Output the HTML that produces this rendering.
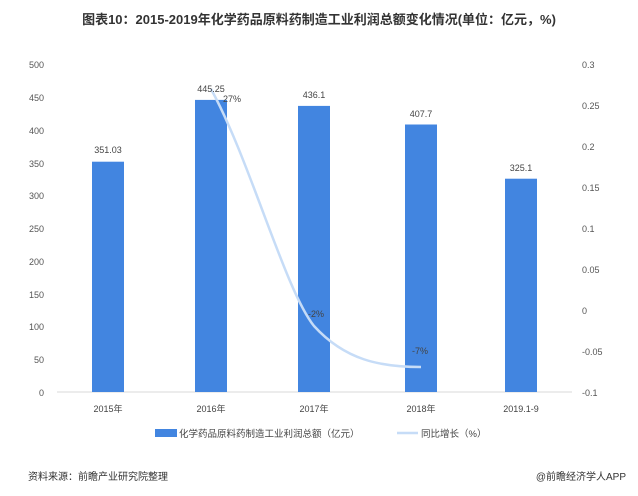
<!DOCTYPE html>
<html><head><meta charset="utf-8"><style>
body{margin:0;background:#fff;}
svg text{font-family:"Liberation Sans","Noto Sans CJK SC",sans-serif;}
</style></head><body>
<svg width="638" height="491" viewBox="0 0 638 491" xmlns="http://www.w3.org/2000/svg">
<rect width="638" height="491" fill="#fff"/>
<text x="319" y="24" text-anchor="middle" font-size="13" font-weight="bold" fill="#333">图表10：2015-2019年化学药品原料药制造工业利润总额变化情况(单位：亿元，%)</text>
<g font-size="9" fill="#555">
<text x="44" y="68" text-anchor="end">500</text>
<text x="44" y="101" text-anchor="end">450</text>
<text x="44" y="134" text-anchor="end">400</text>
<text x="44" y="167" text-anchor="end">350</text>
<text x="44" y="199" text-anchor="end">300</text>
<text x="44" y="232" text-anchor="end">250</text>
<text x="44" y="265" text-anchor="end">200</text>
<text x="44" y="298" text-anchor="end">150</text>
<text x="44" y="330" text-anchor="end">100</text>
<text x="44" y="363" text-anchor="end">50</text>
<text x="44" y="396" text-anchor="end">0</text>
<text x="582" y="68">0.3</text>
<text x="582" y="109">0.25</text>
<text x="582" y="150">0.2</text>
<text x="582" y="191">0.15</text>
<text x="582" y="232">0.1</text>
<text x="582" y="273">0.05</text>
<text x="582" y="314">0</text>
<text x="582" y="355">-0.05</text>
<text x="582" y="396">-0.1</text>
</g>
<line x1="57" y1="392" x2="572" y2="392" stroke="#d9d9d9" stroke-width="1"/>
<g fill="#4285e0">
<rect x="92" y="161.7" width="32" height="230.3"/>
<rect x="195" y="99.9" width="32" height="292.1"/>
<rect x="298" y="105.9" width="32" height="286.1"/>
<rect x="405" y="124.5" width="32" height="267.5"/>
<rect x="505" y="178.7" width="32" height="213.3"/>
</g>
<path d="M211,89 C250,160 285,290 314,326 C345,360 380,367 421,367" fill="none" stroke="#c6dcf7" stroke-width="2.5"/>
<g font-size="9" fill="#444" text-anchor="middle">
<text x="108" y="153">351.03</text>
<text x="211" y="92">445.25</text>
<text x="314" y="98">436.1</text>
<text x="421" y="117">407.7</text>
<text x="521" y="171">325.1</text>
<text x="232" y="102">27%</text>
<text x="316" y="317">-2%</text>
<text x="420" y="354">-7%</text>
<text x="108" y="412">2015年</text>
<text x="211" y="412">2016年</text>
<text x="314" y="412">2017年</text>
<text x="421" y="412">2018年</text>
<text x="521" y="412">2019.1-9</text>
</g>
<rect x="155" y="429" width="22" height="8" fill="#4285e0"/>
<text x="179" y="437" font-size="9.5" fill="#444">化学药品原料药制造工业利润总额（亿元）</text>
<line x1="397" y1="433" x2="418" y2="433" stroke="#c6dcf7" stroke-width="2.5"/>
<text x="421" y="437" font-size="9.5" fill="#444">同比增长（%）</text>
<text x="28" y="480" font-size="10" fill="#333">资料来源：前瞻产业研究院整理</text>
<text x="626" y="480" font-size="10" fill="#333" text-anchor="end">@前瞻经济学人APP</text>
</svg>
</body></html>
